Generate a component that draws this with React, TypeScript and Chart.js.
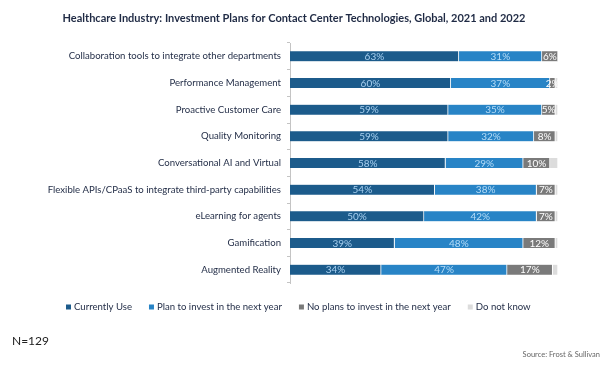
import React, { useEffect, useRef } from "react";
import { Chart, registerables } from "chart.js";

Chart.register(...registerables);

const categories = [
  "Collaboration tools to integrate other departments",
  "Performance Management",
  "Proactive Customer Care",
  "Quality Monitoring",
  "Conversational AI and Virtual",
  "Flexible APIs/CPaaS to integrate third-party capabilities",
  "eLearning for agents",
  "Gamification",
  "Augmented Reality",
];
const currentlyUse = [63, 60, 59, 59, 58, 54, 50, 39, 34];
const planToInvest = [31, 37, 35, 32, 29, 38, 42, 48, 47];
const noPlans = [6, 2, 5, 8, 10, 7, 7, 12, 17];
const doNotKnow = [0, 1, 1, 1, 3, 1, 1, 1, 2];

const seriesNames = [
  "Currently Use",
  "Plan to invest in the next year",
  "No plans to invest in the next year",
  "Do not know",
];
const seriesColors = ["#1c5b8b", "#2884c6", "#7a7a7a", "#dcdcdc"];
const labelColors = ["#a8d0f0", "#b6dcf7", "#ffffff", ""];

const titleText =
  "Healthcare Industry: Investment Plans for Contact Center Technologies, Global, 2021 and 2022";
const FONT = "Lato, 'Open Sans', sans-serif";

export default function App() {
  const ref = useRef<HTMLCanvasElement | null>(null);

  useEffect(() => {
    if (!ref.current) return;
    const extras = {
      id: "extras",
      afterDatasetsDraw(chart: any) {
        const ctx = chart.ctx;
        ctx.save();
        ctx.font = `10px ${FONT}`;
        ctx.textAlign = "center";
        ctx.textBaseline = "middle";
        chart.data.datasets.forEach((ds: any, di: number) => {
          if (di === 3) return;
          const meta = chart.getDatasetMeta(di);
          meta.data.forEach((bar: any, i: number) => {
            const v = ds.data[i];
            const x = (bar.x + bar.base) / 2;
            ctx.fillStyle = labelColors[di];
            ctx.fillText(v + "%", x, bar.y + 0.5);
          });
        });
        ctx.restore();
      },
      afterDraw(chart: any) {
        const ctx = chart.ctx;
        ctx.save();
        ctx.textBaseline = "middle";
        ctx.textAlign = "center";
        ctx.fillStyle = "#1f2a44";
        ctx.font = `bold 11px ${FONT}`;
        ctx.fillText(titleText, 294, 18);

        // legend
        ctx.textAlign = "left";
        ctx.font = `9.6px ${FONT}`;
        let x = 66;
        const y = 307;
        chart.data.datasets.forEach((ds: any, di: number) => {
          ctx.fillStyle = seriesColors[di];
          ctx.fillRect(x, y - 2.5, 5, 5);
          ctx.fillStyle = "#1f2a44";
          ctx.fillText(ds.label, x + 8, y);
          x += 8 + ctx.measureText(ds.label).width + 17;
        });

        ctx.fillStyle = "#222222";
        ctx.font = `12px ${FONT}`;
        ctx.fillText("N=129", 12, 341);
        ctx.fillStyle = "#666666";
        ctx.font = `7.5px ${FONT}`;
        ctx.textAlign = "right";
        ctx.fillText("Source: Frost & Sullivan", 600, 355);
        ctx.restore();
      },
    };

    const chart = new Chart(ref.current, {
      type: "bar",
      data: {
        labels: categories,
        datasets: [currentlyUse, planToInvest, noPlans, doNotKnow].map((data, i) => ({
          label: seriesNames[i],
          data,
          backgroundColor: seriesColors[i],
          borderColor: "#ffffff",
          borderWidth: { left: 0, right: 1, top: 0, bottom: 0 },
          borderSkipped: false,
          barThickness: 10,
        })) as any,
      },
      options: {
        indexAxis: "y",
        animation: false,
        responsive: false,
        maintainAspectRatio: false,
        layout: { padding: { left: 0, right: 45, top: 43, bottom: 83 } },
        scales: {
          x: {
            stacked: true,
            min: 0,
            max: 100,
            display: false,
          },
          y: {
            stacked: true,
            afterFit(scale: any) {
              scale.width = 290;
            },
            grid: {
              offset: true,
              drawOnChartArea: false,
              tickLength: 3,
              color: "#c4c4c4",
            },
            border: { color: "#c4c4c4" },
            ticks: {
              padding: 6,
              color: "#1f2a44",
              font: { family: FONT, size: 9.6 },
            },
          },
        },
        plugins: {
          legend: { display: false },
          title: { display: false },
          tooltip: { enabled: false },
        },
      },
      plugins: [extras],
    });
    return () => chart.destroy();
  }, []);

  return (
    <div style={{ position: "absolute", left: 0, top: 0, width: 603, height: 366, background: "#fff" }}>
      <canvas ref={ref} width={603} height={366} style={{ width: 603, height: 366 }} />
    </div>
  );
}
